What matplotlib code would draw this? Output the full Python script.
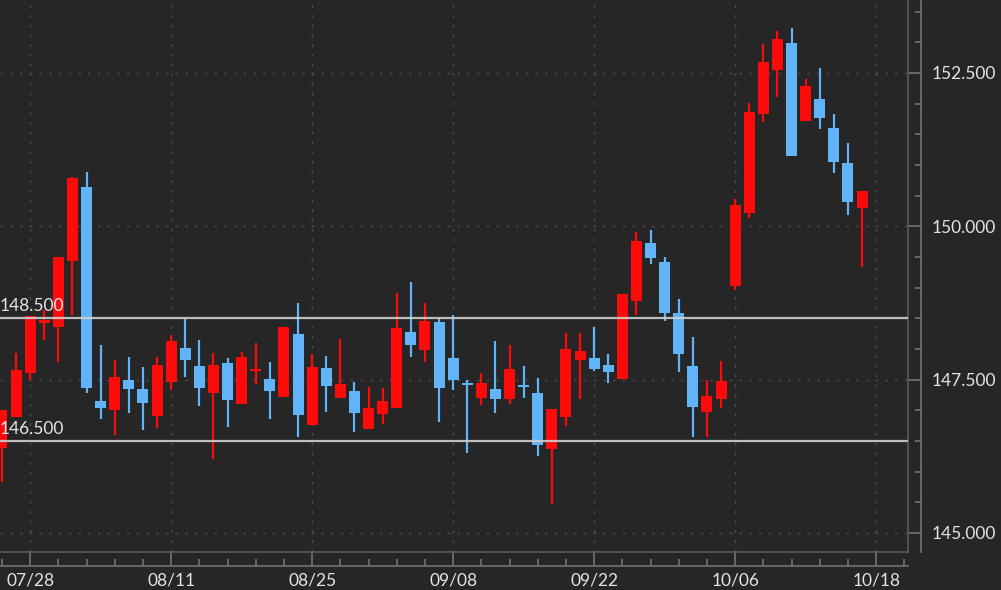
import numpy as np
import matplotlib
matplotlib.use("Agg")
import matplotlib.pyplot as plt
from matplotlib.ticker import FixedLocator, MultipleLocator, FuncFormatter

# ---------------- data ----------------
opens = [146.386, 146.891, 147.609, 148.424, 148.359, 149.435, 150.642, 147.152, 147.006, 147.495,
         147.348, 146.908, 147.462, 148.016, 147.723, 147.283, 147.772, 147.103, 147.641, 147.511,
         147.218, 148.245, 146.761, 147.690, 147.201, 147.315, 146.696, 146.940, 147.038, 148.277,
         147.984, 148.440, 147.853, 147.446, 147.201, 147.348, 147.185, 147.413, 147.283, 146.370,
         146.891, 147.821, 147.853, 147.739, 147.511, 148.783, 149.729, 149.419, 148.587, 147.723,
         146.973, 147.185, 149.027, 150.218, 151.832, 152.549, 152.990, 151.718, 152.077, 151.604,
         151.033, 150.299]
closes = [147.006, 147.658, 148.538, 148.473, 149.500, 150.788, 147.364, 147.038, 147.544, 147.348,
          147.120, 147.739, 148.131, 147.821, 147.364, 147.739, 147.169, 147.870, 147.674, 147.315,
          148.359, 146.924, 147.707, 147.397, 147.430, 146.957, 147.038, 147.152, 148.343, 148.065,
          148.457, 147.364, 147.495, 147.413, 147.446, 147.185, 147.674, 147.381, 146.435, 147.022,
          148.000, 147.968, 147.674, 147.625, 148.897, 149.761, 149.484, 148.587, 147.919, 147.054,
          147.234, 147.478, 150.348, 151.864, 152.680, 153.055, 151.147, 152.288, 151.767, 151.049,
          150.397, 150.576]
highs = [147.006, 147.935, 148.538, 148.636, 149.500, 150.800, 150.886, 148.065, 147.821, 147.870,
         147.707, 147.870, 148.228, 148.489, 148.147, 147.935, 147.853, 147.951, 148.098, 147.788,
         148.359, 148.750, 147.919, 147.886, 148.163, 147.462, 147.381, 147.364, 148.913, 149.093,
         148.750, 148.506, 148.555, 147.495, 147.609, 148.131, 148.065, 147.723, 147.527, 147.022,
         148.261, 148.261, 148.359, 147.919, 148.897, 149.908, 149.940, 149.500, 148.815, 148.196,
         147.495, 147.804, 150.446, 152.011, 152.973, 153.185, 153.234, 152.403, 152.582, 151.832,
         151.359, 150.576]
lows = [145.832, 146.891, 147.495, 148.147, 147.788, 148.555, 147.283, 146.859, 146.598, 146.957,
        146.679, 146.712, 147.332, 147.544, 147.071, 146.207, 146.728, 147.103, 147.430, 146.859,
        147.218, 146.565, 146.761, 146.973, 147.201, 146.647, 146.696, 146.777, 147.038, 147.870,
        147.788, 146.810, 147.332, 146.304, 147.087, 146.957, 147.103, 147.201, 146.256, 145.473,
        146.745, 147.185, 147.641, 147.446, 147.511, 148.555, 149.386, 148.457, 147.625, 146.565,
        146.565, 147.038, 148.962, 150.136, 151.701, 152.109, 151.147, 151.718, 151.587, 150.870,
        150.185, 149.337]

date_tick_index = [2, 12, 22, 32, 42, 52, 62]
date_labels = ["07/28", "08/11", "08/25", "09/08", "09/22", "10/06", "10/18"]
y_ticks = [145.0, 147.5, 150.0, 152.5]
level_lines = [148.5, 146.5]
level_labels = ["148.500", "146.500"]

# ---------------- style ----------------
BG = "#262626"
UP = "#ff0a0a"
DOWN = "#62b4f9"
AXC = "#6e6e6e"
TXT = "#e4e4e4"
GRID = "#4c4c4c"
FONT = "Lato"

W, H = 1001, 590
fig = plt.figure(figsize=(W / 100, H / 100), dpi=100, facecolor=BG)
ax = fig.add_axes([0, 1 - 552 / H, 908 / W, 552 / H], facecolor=BG)

o = np.array(opens); c = np.array(closes); hi = np.array(highs); lo = np.array(lows)
x = np.arange(len(o))
up = c >= o
cols = np.where(up, UP, DOWN)

ax.vlines(x, lo, hi, colors=cols, linewidth=1.6, zorder=2)
ax.bar(x, np.abs(c - o), bottom=np.minimum(o, c), width=0.78, color=cols,
       linewidth=0, zorder=3)

# limits
ax.set_xlim(-0.14, 64.26)
ax.set_ylim(144.69, 153.69)

# grid
ax.set_xticks(date_tick_index)
ax.set_xticklabels(date_labels)
ax.xaxis.set_minor_locator(MultipleLocator(2))
ax.set_yticks(y_ticks)
ax.yaxis.set_major_formatter(FuncFormatter(lambda v, p: f"{v:.3f}"))
ax.yaxis.set_minor_locator(MultipleLocator(0.5))
ax.grid(True, which="major", color=GRID, linewidth=1.0, linestyle=(0, (2, 5)), zorder=1)

# spines
for s in ["left", "top"]:
    ax.spines[s].set_visible(False)
ax.spines["right"].set_position(("outward", 13 * 0.72))
ax.spines["bottom"].set_position(("outward", 14 * 0.72))
ax.spines["right"].set_color(AXC)
ax.spines["bottom"].set_color(AXC)
ax.spines["right"].set_linewidth(1.3)
ax.spines["bottom"].set_linewidth(1.3)

ax.yaxis.tick_right()
ax.yaxis.set_label_position("right")
ax.tick_params(axis="y", which="major", direction="in", length=13 * 0.72, width=1.3,
               color=AXC, labelcolor=TXT, labelsize=12.5, pad=8, right=True, left=False)
ax.tick_params(axis="y", which="minor", direction="in", length=6 * 0.72, width=1.3,
               color=AXC, right=True, left=False)
ax.tick_params(axis="x", which="major", direction="in", length=14 * 0.72, width=1.3,
               color=AXC, labelcolor=TXT, labelsize=12.5, pad=5)
ax.tick_params(axis="x", which="minor", direction="in", length=7 * 0.72, width=1.3,
               color=AXC)
for lab in ax.get_xticklabels() + ax.get_yticklabels():
    lab.set_fontfamily(FONT)

# plot-area border (right and bottom)
ax.plot([1, 1], [0, 1], transform=ax.transAxes, color="#5a5a5a", lw=1.2, clip_on=False, zorder=5)
ax.plot([0, 1], [0, 0], transform=ax.transAxes, color="#5a5a5a", lw=1.2, clip_on=False, zorder=5)

# level lines
for lv, lab in zip(level_lines, level_labels):
    ax.axhline(lv, color="#cfcfcf", lw=1.6, alpha=0.9, zorder=6)
    ax.annotate(lab, xy=(0, lv), xycoords=("axes fraction", "data"), xytext=(0, 3),
                textcoords="offset points", ha="left", va="bottom", color=TXT,
                fontsize=12.5, fontfamily=FONT, zorder=7)

fig.savefig("out.png", dpi=100, facecolor=BG)
